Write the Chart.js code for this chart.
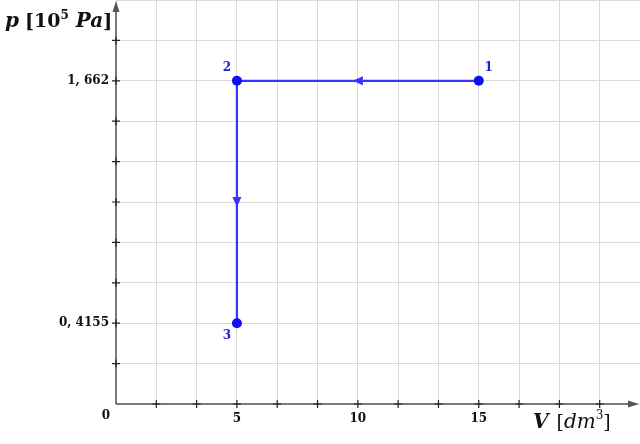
<!DOCTYPE html>
<html>
<head>
<meta charset="utf-8">
<script src="https://cdn.jsdelivr.net/npm/chart.js@4/dist/chart.umd.min.js"></script>
<style>
html,body{margin:0;padding:0;background:#fff;}
#wrap{width:640px;height:444px;}
</style>
</head>
<body>
<div id="wrap"><canvas id="c" width="640" height="444"></canvas></div>
<script>
// ---- data ----
const pointNames = ['1', '2', '3'];
const volumes = [15, 5, 5];            // V [dm^3]
const pressures = [1.662, 1.662, 0.4155]; // p [10^5 Pa]
const xTickLabels = [5, 10, 15];
const yTickLabels = [0.4155, 1.662];
const xGridStep = 5 / 3;
const yGridStep = 1.662 / 8;
const xMax = 13 * xGridStep;
const yMax = 10 * yGridStep;

const blue = '#3535ff';
const pointBlue = '#1010ee';
const labelBlue = '#2020e0';
const axisColor = '#555555';
const SERIF = '"DejaVu Serif", serif';

function fmtComma(v) {
  const s = String(v).split('.');
  return s.length > 1 ? s[0] + ', ' + s[1] : s[0];
}
function near(a, b) { return Math.abs(a - b) < 1e-6; }

const overlay = {
  id: 'overlay',
  afterDatasetsDraw(chart) {
    const ctx = chart.ctx;
    const xs = chart.scales.x, ys = chart.scales.y;
    const x0 = xs.getPixelForValue(0), y0 = ys.getPixelForValue(0);
    ctx.save();
    // axes
    ctx.strokeStyle = axisColor; ctx.fillStyle = axisColor; ctx.lineWidth = 1.5;
    ctx.beginPath(); ctx.moveTo(x0, y0); ctx.lineTo(x0, 6); ctx.stroke();
    ctx.beginPath(); ctx.moveTo(x0, y0); ctx.lineTo(634, y0); ctx.stroke();
    ctx.beginPath(); ctx.moveTo(x0, 1); ctx.lineTo(x0 - 3.5, 12); ctx.lineTo(x0 + 3.5, 12); ctx.closePath(); ctx.fill();
    ctx.beginPath(); ctx.moveTo(639, y0); ctx.lineTo(628, y0 - 3.5); ctx.lineTo(628, y0 + 3.5); ctx.closePath(); ctx.fill();
    // tick crosses
    ctx.strokeStyle = '#222'; ctx.lineWidth = 1.2;
    xs.ticks.forEach(t => {
      if (t.value === 0) return;
      const px = xs.getPixelForValue(t.value);
      if (px > 625) return;
      ctx.beginPath(); ctx.moveTo(px, y0 - 4); ctx.lineTo(px, y0 + 4);
      ctx.moveTo(px - 4, y0); ctx.lineTo(px + 4, y0); ctx.stroke();
    });
    ys.ticks.forEach(t => {
      if (t.value === 0) return;
      const py = ys.getPixelForValue(t.value);
      if (py < 20) return;
      ctx.beginPath(); ctx.moveTo(x0 - 4, py); ctx.lineTo(x0 + 4, py);
      ctx.moveTo(x0, py - 4); ctx.lineTo(x0, py + 4); ctx.stroke();
    });
    // origin label
    ctx.fillStyle = '#111';
    ctx.font = 'bold 12px ' + SERIF;
    ctx.textAlign = 'center'; ctx.textBaseline = 'middle';
    ctx.fillText('0', x0 - 10, y0 + 12);

    // direction arrows at segment midpoints
    ctx.fillStyle = blue;
    for (let i = 0; i < volumes.length - 1; i++) {
      const ax = xs.getPixelForValue(volumes[i]), ay = ys.getPixelForValue(pressures[i]);
      const bx = xs.getPixelForValue(volumes[i + 1]), by = ys.getPixelForValue(pressures[i + 1]);
      const mx = (ax + bx) / 2, my = (ay + by) / 2;
      const ang = Math.atan2(by - ay, bx - ax);
      ctx.save(); ctx.translate(mx, my); ctx.rotate(ang);
      ctx.beginPath(); ctx.moveTo(5, 0); ctx.lineTo(-5, -4.5); ctx.lineTo(-5, 4.5); ctx.closePath(); ctx.fill();
      ctx.restore();
    }
    // point names
    ctx.fillStyle = labelBlue;
    ctx.font = 'bold 12px ' + SERIF;
    const offs = [[10, -13], [-10, -13], [-10, 13]];
    pointNames.forEach((n, i) => {
      const px = xs.getPixelForValue(volumes[i]), py = ys.getPixelForValue(pressures[i]);
      ctx.fillText(n, px + offs[i][0], py + offs[i][1]);
    });

    // axis titles
    ctx.fillStyle = '#111';
    ctx.textAlign = 'left'; ctx.textBaseline = 'alphabetic';
    function runs(x, y, parts) {
      parts.forEach(p => {
        ctx.font = p.f;
        ctx.fillText(p.t, x, y + (p.dy || 0));
        x += ctx.measureText(p.t).width + (p.gap || 0);
      });
    }
    runs(5, 27, [
      {t: 'p', f: 'italic bold 20px ' + SERIF, gap: 6},
      {t: '[10', f: 'bold 19px ' + SERIF},
      {t: '5', f: 'bold 12px ' + SERIF, dy: -8, gap: 7},
      {t: 'Pa', f: 'italic bold 20px ' + SERIF},
      {t: ']', f: 'bold 19px ' + SERIF}
    ]);
    runs(533, 428, [
      {t: 'V', f: 'italic bold 20px ' + SERIF, gap: 8},
      {t: '[', f: '19px ' + SERIF},
      {t: 'dm', f: 'italic 20px ' + SERIF},
      {t: '3', f: '12px ' + SERIF, dy: -9},
      {t: ']', f: '19px ' + SERIF}
    ]);
    ctx.restore();
  }
};

new Chart(document.getElementById('c'), {
  type: 'scatter',
  data: {
    datasets: [{
      data: volumes.map((v, i) => ({x: v, y: pressures[i]})),
      showLine: true,
      borderColor: blue,
      borderWidth: 2.2,
      pointRadius: 5,
      pointBackgroundColor: pointBlue,
      pointBorderColor: pointBlue,
      pointBorderWidth: 0,
      tension: 0
    }]
  },
  options: {
    responsive: false,
    animation: false,
    layout: {padding: 0, autoPadding: false},
    plugins: {legend: {display: false}, tooltip: {enabled: false}},
    scales: {
      x: {
        type: 'linear', min: 0, max: xMax,
        afterBuildTicks(s) {
          const t = [];
          for (let k = 0; k <= 13; k++) t.push({value: k * xGridStep});
          s.ticks = t;
        },
        afterFit(s) { s.height = 40; s.paddingLeft = 0; s.paddingRight = 0; },
        grid: {color: '#dadada', lineWidth: 1, drawTicks: false},
        border: {display: false},
        ticks: {
          autoSkip: false, maxRotation: 0, padding: 8, color: '#111',
          font: {family: SERIF, weight: 'bold', size: 12},
          callback(v) {
            const m = xTickLabels.find(l => near(l, v));
            return m !== undefined ? String(m) : '';
          }
        }
      },
      y: {
        type: 'linear', min: 0, max: yMax,
        afterBuildTicks(s) {
          const t = [];
          for (let k = 0; k <= 10; k++) t.push({value: k * yGridStep});
          s.ticks = t;
        },
        afterFit(s) { s.width = 116; s.paddingTop = 0; s.paddingBottom = 0; },
        grid: {color: '#dadada', lineWidth: 1, drawTicks: false},
        border: {display: false},
        ticks: {
          autoSkip: false, padding: 7, color: '#111',
          font: {family: SERIF, weight: 'bold', size: 12},
          callback(v) {
            const m = yTickLabels.find(l => near(l, v));
            return m !== undefined ? fmtComma(m) : '';
          }
        }
      }
    }
  },
  plugins: [overlay]
});
</script>
</body>
</html>
